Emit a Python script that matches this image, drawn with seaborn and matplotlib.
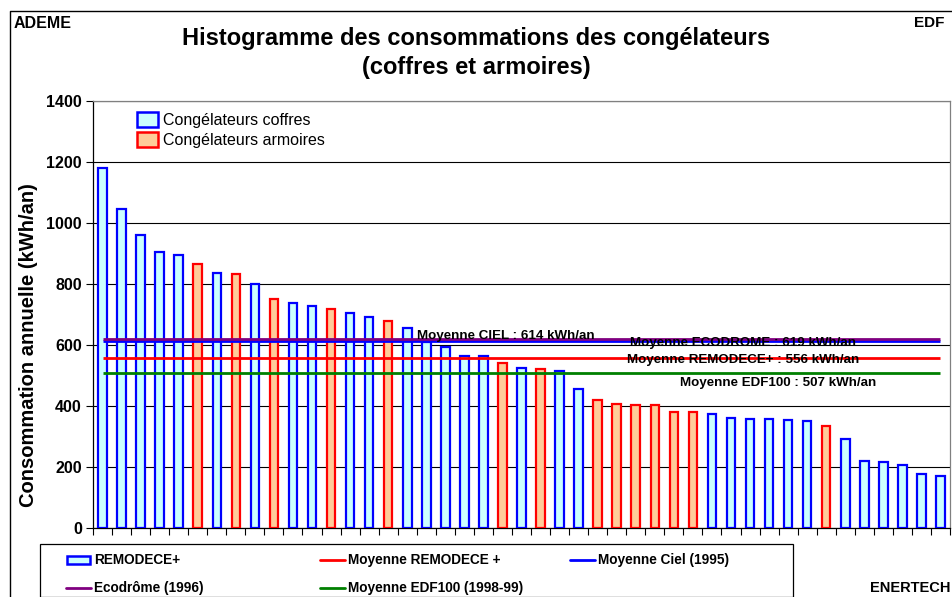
import matplotlib
matplotlib.use("Agg")
import matplotlib.pyplot as plt
import seaborn as sns
import pandas as pd
from matplotlib.patches import Rectangle
from matplotlib.lines import Line2D

# ---- data ----
values = [1180, 1046, 960, 905, 895, 866, 836, 833, 800, 751,
          738, 728, 718, 705, 692, 679, 656, 610, 593, 564,
          564, 541, 525, 521, 515, 456, 420, 407, 403, 403,
          380, 380, 373, 362, 357, 356, 353, 351, 335, 291,
          220, 215, 208, 176, 172]
types = ["C", "C", "C", "C", "C", "A", "C", "A", "C", "A",
         "C", "C", "A", "C", "C", "A", "C", "C", "C", "C",
         "C", "A", "C", "A", "C", "C", "A", "A", "A", "A",
         "A", "A", "C", "C", "C", "C", "C", "C", "A", "C",
         "C", "C", "C", "C", "C"]
type_labels = {"C": "Congélateurs coffres", "A": "Congélateurs armoires"}
mean_names = ["Moyenne CIEL : 614 kWh/an", "Moyenne ECODROME : 619 kWh/an",
              "Moyenne REMODECE+ : 556 kWh/an", "Moyenne EDF100 : 507 kWh/an"]
mean_values = [614, 619, 556, 507]
yticks = [0, 200, 400, 600, 800, 1000, 1200, 1400]

fills = {"C": "#CCFFFF", "A": "#FFCC99"}
edges = {"C": "#0000FF", "A": "#FF0000"}
mean_colors = ["#0000FF", "#800080", "#FF0000", "#008000"]

sns.set_style("white")
plt.rcParams['font.family'] = ['Liberation Sans', 'DejaVu Sans']
plt.rcParams['text.color'] = 'black'
plt.rcParams['axes.labelcolor'] = 'black'
plt.rcParams['xtick.color'] = 'black'
plt.rcParams['ytick.color'] = 'black'

W, H = 952, 597
fig = plt.figure(figsize=(W / 100, H / 100), dpi=100)

def fx(x):
    return x / W

def fy(y):
    return 1 - y / H

ax = fig.add_axes([fx(93), fy(528), (950 - 93) / W, (528 - 101) / H])

df = pd.DataFrame({"idx": [str(i) for i in range(len(values))],
                   "val": values, "type": types})
sns.barplot(data=df, x="idx", y="val", hue="type", palette=fills,
            hue_order=["C", "A"], dodge=False, width=0.45, ax=ax,
            legend=False, saturation=1, zorder=3)
for cont, t in zip(ax.containers, ["C", "A"]):
    for p in cont:
        p.set_edgecolor(edges[t])
        p.set_linewidth(1.6)

n = len(values)
ax.set_xlim(-0.5, n - 0.5)
ax.set_ylim(0, 1400)
ax.set_yticks(yticks)
ax.set_yticklabels([str(v) for v in yticks], fontsize=11.5, fontweight="bold")
ax.set_xticks([i + 0.5 for i in range(-1, n)])
ax.set_xticklabels([])
ax.set_xlabel("")
ax.tick_params(axis="both", direction="out", length=5, width=0.8, color="black",
               bottom=True, left=True, pad=3)
ax.grid(axis="y", color="black", linewidth=0.8, zorder=0)
ax.set_axisbelow(True)
for s in ["left", "bottom"]:
    ax.spines[s].set_color("black")
    ax.spines[s].set_linewidth(0.9)
for s in ["top", "right"]:
    ax.spines[s].set_color("#808080")
    ax.spines[s].set_linewidth(0.9)

ax.set_ylabel("Consommation annuelle (kWh/an)", fontsize=14.5, fontweight="bold")
ax.yaxis.set_label_coords(-0.064, 0.4286)

# mean lines
for i in range(len(mean_values)):
    ax.hlines(mean_values[i], 0, n - 1, color=mean_colors[i], linewidth=2.0, zorder=4)

# annotations (data coords)
ann_pos = [(16.5, 630), (27.7, 607), (27.55, 551), (30.3, 475)]
for name, (xx, yy) in zip(mean_names, ann_pos):
    ax.text(xx, yy, name, fontsize=9.6, fontweight="bold", va="center", ha="left", zorder=5)

# in-plot legend
for k, (t, yy) in enumerate([("C", 120), ("A", 140)]):
    fig.patches.append(Rectangle((fx(137), fy(yy + 7)), 21 / W, 15 / H,
                                 transform=fig.transFigure, facecolor=fills[t],
                                 edgecolor=edges[t], linewidth=1.8))
    fig.text(fx(163), fy(yy), type_labels[t], fontsize=11.5, va="center", ha="left")

# title and corner texts
fig.text(fx(476), fy(53), "Histogramme des consommations des congélateurs\n(coffres et armoires)",
         fontsize=17, fontweight="bold", ha="center", va="center", linespacing=1.3)
fig.text(fx(14), fy(23), "ADEME", fontsize=11.5, fontweight="bold", ha="left", va="center")
fig.text(fx(944), fy(23), "EDF", fontsize=11, fontweight="bold", ha="right", va="center")
fig.text(fx(870), fy(588), "ENERTECH", fontsize=10.5, fontweight="bold", ha="left", va="center")

# outer frame
fig.lines.append(Line2D([fx(10), fx(10), 1.0], [0, fy(11), fy(11)],
                        transform=fig.transFigure, color="black", linewidth=1.0))

# bottom legend box
fig.patches.append(Rectangle((fx(40), 0), (793 - 40) / W, (H - 544) / H,
                             transform=fig.transFigure, facecolor="white",
                             edgecolor="black", linewidth=0.9))
row1, row2 = 560, 588
fig.patches.append(Rectangle((fx(67), fy(row1 + 4)), 23 / W, 8 / H,
                             transform=fig.transFigure, facecolor=fills["C"],
                             edgecolor=edges["C"], linewidth=1.8))
fig.text(fx(94), fy(row1), "REMODECE+", fontsize=9.8, fontweight="bold", va="center")
legend_lines = [(320, row1, "#FF0000", "Moyenne REMODECE +"),
                (570, row1, "#0000FF", "Moyenne Ciel (1995)"),
                (66, row2, "#800080", "Ecodrôme (1996)"),
                (320, row2, "#008000", "Moyenne EDF100 (1998-99)")]
for x0, yy, c, lab in legend_lines:
    fig.lines.append(Line2D([fx(x0), fx(x0 + 25)], [fy(yy), fy(yy)],
                            transform=fig.transFigure, color=c, linewidth=2.0))
    fig.text(fx(x0 + 28), fy(yy), lab, fontsize=9.8, fontweight="bold", va="center")

fig.savefig("out.png", dpi=100)
